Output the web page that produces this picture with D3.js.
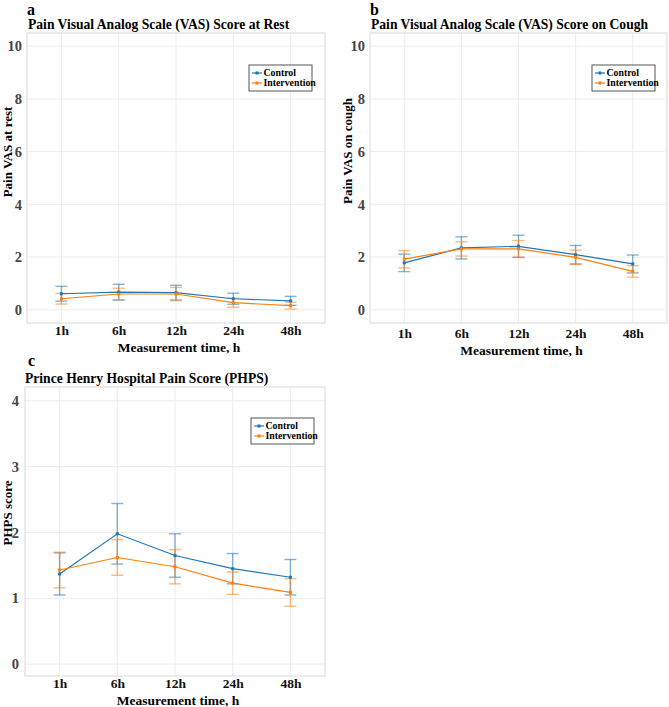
<!DOCTYPE html>
<html>
<head>
<meta charset="utf-8">
<script src="https://cdn.jsdelivr.net/npm/d3@7"></script>
<style>
  body { margin: 0; background: #fff; }
  svg { font-family: "Liberation Serif", "Times New Roman", serif; font-weight: bold; }
</style>
</head>
<body>
<svg id="chart" width="669" height="707"></svg>
<script>
const times = ["1h", "6h", "12h", "24h", "48h"];
const seriesNames = ["Control", "Intervention"];

// panel a: VAS at rest (mean, error)
const restControl = [0.61, 0.67, 0.65, 0.42, 0.34];
const restControlErr = [0.28, 0.30, 0.28, 0.21, 0.17];
const restInterv = [0.42, 0.60, 0.60, 0.27, 0.16];
const restIntervErr = [0.20, 0.22, 0.25, 0.17, 0.13];

// panel b: VAS on cough
const coughControl = [1.78, 2.35, 2.41, 2.09, 1.74];
const coughControlErr = [0.33, 0.42, 0.42, 0.35, 0.34];
const coughInterv = [1.92, 2.31, 2.31, 1.99, 1.46];
const coughIntervErr = [0.33, 0.27, 0.32, 0.27, 0.22];

// panel c: PHPS
const phpsControl = [1.37, 1.98, 1.65, 1.45, 1.32];
const phpsControlErr = [0.32, 0.46, 0.33, 0.23, 0.27];
const phpsInterv = [1.43, 1.62, 1.48, 1.23, 1.09];
const phpsIntervErr = [0.27, 0.27, 0.26, 0.17, 0.21];

const vasTicks = [0, 2, 4, 6, 8, 10];
const phpsTicks = [0, 1, 2, 3, 4];

const colors = ["#1f77b4", "#ff7f0e"];
const errColors = ["rgba(31,119,180,0.55)", "rgba(255,127,14,0.55)"];

const panels = [
  {
    letter: "a", title: "Pain Visual Analog Scale (VAS) Score at Rest", ylab: "Pain VAS at rest",
    box: { x0: 27, x1: 325, y0: 33, y1: 323 }, yDomain: [-0.5, 10.5], ticks: vasTicks, tickPad: 4,
    letterPos: [27, 15], titlePos: [28, 29], ylabPos: [11.5, 152], xTickY: 338, xlabY: 352,
    legend: [249, 65],
    series: [[restControl, restControlErr], [restInterv, restIntervErr]],
  },
  {
    letter: "b", title: "Pain Visual Analog Scale (VAS) Score on Cough", ylab: "Pain VAS on cough",
    box: { x0: 370, x1: 667, y0: 33, y1: 323 }, yDomain: [-0.5, 10.5], ticks: vasTicks, tickPad: 4,
    letterPos: [370, 15], titlePos: [371, 29], ylabPos: [352, 151], xTickY: 341, xlabY: 355,
    legend: [592, 65],
    series: [[coughControl, coughControlErr], [coughInterv, coughIntervErr]],
  },
  {
    letter: "c", title: "Prince Henry Hospital Pain Score (PHPS)", ylab: "PHPS score",
    box: { x0: 25, x1: 325, y0: 387, y1: 676 }, yDomain: [-0.18, 4.21], ticks: phpsTicks, tickPad: 5,
    letterPos: [28, 366], titlePos: [25, 383], ylabPos: [11.5, 513], xTickY: 691, xlabY: 705,
    legend: [251, 418],
    series: [[phpsControl, phpsControlErr], [phpsInterv, phpsIntervErr]],
  },
];

const svg = d3.select("#chart");

panels.forEach((p) => {
  const g = svg.append("g");
  const { x0, x1, y0, y1 } = p.box;
  const xScale = d3.scalePoint().domain(times).range([x0, x1]).padding(0.6);
  const yScale = d3.scaleLinear().domain(p.yDomain).range([y1, y0]);

  // grid
  g.selectAll(".hgrid")
    .data(p.ticks)
    .join("line")
    .attr("x1", x0).attr("x2", x1)
    .attr("y1", (d) => yScale(d)).attr("y2", (d) => yScale(d))
    .attr("stroke", "#ececec").attr("stroke-width", 1);
  g.selectAll(".vgrid")
    .data(times)
    .join("line")
    .attr("x1", (d) => xScale(d)).attr("x2", (d) => xScale(d))
    .attr("y1", y0).attr("y2", y1)
    .attr("stroke", "#ececec").attr("stroke-width", 1);

  g.append("rect")
    .attr("x", x0).attr("y", y0)
    .attr("width", x1 - x0).attr("height", y1 - y0)
    .attr("fill", "none").attr("stroke", "#d9d9d9").attr("stroke-width", 1);

  // axes
  const yAxis = g.append("g")
    .attr("transform", `translate(${x0 - 1}, 0)`)
    .call(d3.axisLeft(yScale).tickValues(p.ticks).tickFormat(d3.format("d")).tickSize(0).tickPadding(p.tickPad));
  yAxis.select(".domain").remove();
  yAxis.selectAll("text")
    .attr("font-family", "Liberation Serif, serif")
    .attr("font-weight", "bold")
    .attr("font-size", 14.5).attr("fill", "#444");

  const xAxis = g.append("g")
    .attr("transform", `translate(0, ${p.xTickY - 13})`)
    .call(d3.axisBottom(xScale).tickSize(0).tickPadding(0));
  xAxis.select(".domain").remove();
  xAxis.selectAll("text")
    .attr("font-family", "Liberation Serif, serif")
    .attr("font-weight", "bold")
    .attr("font-size", 13.5).attr("fill", "#111");

  g.append("text")
    .attr("x", (x0 + x1) / 2 + 3).attr("y", p.xlabY)
    .attr("text-anchor", "middle").attr("font-size", 13.5)
    .text("Measurement time, h");

  g.append("text")
    .attr("transform", `translate(${p.ylabPos[0]}, ${p.ylabPos[1]}) rotate(-90)`)
    .attr("text-anchor", "middle").attr("font-size", 13)
    .text(p.ylab);

  g.append("text")
    .attr("x", p.letterPos[0]).attr("y", p.letterPos[1])
    .attr("font-size", 16).text(p.letter);
  g.append("text")
    .attr("x", p.titlePos[0]).attr("y", p.titlePos[1])
    .attr("font-size", 13.6).text(p.title);

  // error bars, then lines and markers
  p.series.forEach(([vals, errs], i) => {
    const rows = times.map((t, k) => ({ t, v: vals[k], e: errs[k] }));
    const eb = g.append("g").attr("stroke", errColors[i]).attr("stroke-width", 1.4);
    eb.selectAll(".stem").data(rows).join("line")
      .attr("x1", (d) => xScale(d.t)).attr("x2", (d) => xScale(d.t))
      .attr("y1", (d) => yScale(d.v - d.e)).attr("y2", (d) => yScale(d.v + d.e));
    eb.selectAll(".capT").data(rows).join("line")
      .attr("x1", (d) => xScale(d.t) - 6).attr("x2", (d) => xScale(d.t) + 6)
      .attr("y1", (d) => yScale(d.v + d.e)).attr("y2", (d) => yScale(d.v + d.e));
    eb.selectAll(".capB").data(rows).join("line")
      .attr("x1", (d) => xScale(d.t) - 6).attr("x2", (d) => xScale(d.t) + 6)
      .attr("y1", (d) => yScale(d.v - d.e)).attr("y2", (d) => yScale(d.v - d.e));
  });

  p.series.forEach(([vals], i) => {
    const rows = times.map((t, k) => ({ t, v: vals[k] }));
    const line = d3.line().x((d) => xScale(d.t)).y((d) => yScale(d.v));
    g.append("path").datum(rows)
      .attr("fill", "none").attr("stroke", colors[i]).attr("stroke-width", 1.2)
      .attr("d", line);
    g.selectAll(".pt" + i).data(rows).join("rect")
      .attr("x", (d) => xScale(d.t) - 1.5).attr("y", (d) => yScale(d.v) - 1.5)
      .attr("width", 3).attr("height", 3)
      .attr("fill", colors[i]);
  });

  // legend
  const [lx, ly] = p.legend;
  const lg = g.append("g").attr("transform", `translate(${lx}, ${ly})`);
  lg.append("rect")
    .attr("width", 63).attr("height", 26)
    .attr("fill", "#fff").attr("stroke", "#555").attr("stroke-width", 1);
  seriesNames.forEach((name, i) => {
    const yy = 8 + i * 10;
    lg.append("line")
      .attr("x1", 3).attr("x2", 13).attr("y1", yy).attr("y2", yy)
      .attr("stroke", colors[i]).attr("stroke-width", 1.2);
    lg.append("rect")
      .attr("x", 6.5).attr("y", yy - 1.5).attr("width", 3).attr("height", 3)
      .attr("fill", colors[i]);
    lg.append("text")
      .attr("x", 14.5).attr("y", yy + 3.3)
      .attr("font-size", 9.8).text(name);
  });
});
</script>
</body>
</html>
